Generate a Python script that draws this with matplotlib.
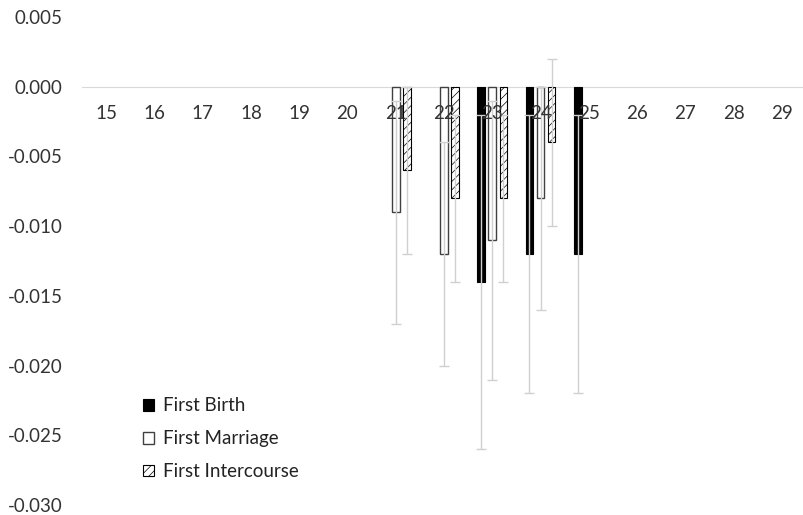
import numpy as np
import matplotlib.pyplot as plt
import matplotlib as mpl

plt.rcParams['font.family'] = ['Lato', 'DejaVu Sans']
mpl.rcParams['hatch.linewidth'] = 0.5

ages = np.arange(15, 30)

# point estimates (0 = not shown)
birth = [0, 0, 0, 0, 0, 0, 0, 0, -0.014, -0.012, -0.012, 0, 0, 0, 0]
marriage = [0, 0, 0, 0, 0, 0, -0.009, -0.012, -0.011, -0.008, 0, 0, 0, 0, 0]
intercourse = [0, 0, 0, 0, 0, 0, -0.006, -0.008, -0.008, -0.004, 0, 0, 0, 0, 0]

# half-widths of the confidence intervals
birth_err = [0, 0, 0, 0, 0, 0, 0, 0, 0.012, 0.010, 0.010, 0, 0, 0, 0]
marriage_err = [0, 0, 0, 0, 0, 0, 0.008, 0.008, 0.010, 0.008, 0, 0, 0, 0, 0]
intercourse_err = [0, 0, 0, 0, 0, 0, 0.006, 0.006, 0.006, 0.006, 0, 0, 0, 0, 0]

fig = plt.figure(figsize=(8.04, 5.15), dpi=100)
ax = fig.add_axes([82 / 804, 10 / 515, 724 / 804, 488 / 515])

w = 0.16
off = 0.23
ekw = dict(ecolor='#d0d0d0', elinewidth=1.0, capsize=3.5, capthick=1.0)

def show(vals, errs):
    v = np.array(vals, dtype=float)
    e = np.array(errs, dtype=float)
    m = v != 0
    return m, v, e

m, v, e = show(birth, birth_err)
ax.bar(ages[m] - off, v[m], w, color='black', edgecolor='black', linewidth=0.8,
       label='First Birth', zorder=1)
ax.errorbar(ages[m] - off, v[m], yerr=e[m], fmt='none', zorder=1.5, **ekw)

m, v, e = show(marriage, marriage_err)
ax.bar(ages[m], v[m], w, color='white', edgecolor='#404040', linewidth=1.0,
       label='First Marriage', zorder=1)
ax.errorbar(ages[m], v[m], yerr=e[m], fmt='none', zorder=1.5, **ekw)

m, v, e = show(intercourse, intercourse_err)
ax.bar(ages[m] + off, v[m], w, color='white', edgecolor='black', linewidth=0.8,
       hatch='////', label='First Intercourse', zorder=1)
ax.errorbar(ages[m] + off, v[m], yerr=e[m], fmt='none', zorder=1.5, **ekw)

ax.set_xlim(14.5, 29.5)
ax.set_ylim(-0.030, 0.005)
ax.set_yticks(np.arange(-0.030, 0.0051, 0.005))
ax.yaxis.set_major_formatter(mpl.ticker.FuncFormatter(lambda y, p: '%.3f' % (0 if abs(y) < 1e-9 else y)))
ax.set_xticks(ages)
ax.set_xticklabels([str(a) for a in ages])

for s in ['top', 'right', 'left']:
    ax.spines[s].set_visible(False)
ax.spines['bottom'].set_position(('data', 0))
ax.spines['bottom'].set_color('#d9d9d9')
ax.spines['bottom'].set_zorder(0.5)
ax.tick_params(axis='both', length=0, labelsize=13.5, colors='#333333')
ax.tick_params(axis='x', pad=13)
ax.tick_params(axis='y', pad=14)

ax.legend(loc='lower left', bbox_to_anchor=(126 / 804, 18 / 515), bbox_transform=fig.transFigure,
          frameon=False, fontsize=13.5, handlelength=0.6, handleheight=0.6,
          handletextpad=0.45, labelspacing=0.85, labelcolor='#222222')

fig.savefig('out.png', dpi=100)
